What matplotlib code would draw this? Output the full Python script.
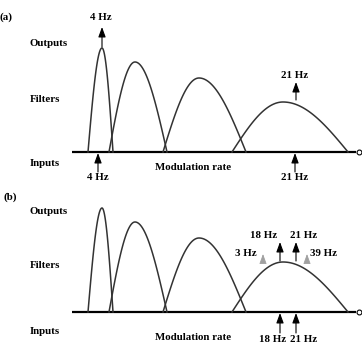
import numpy as np
import matplotlib
matplotlib.use('Agg')
import matplotlib.pyplot as plt

# schematic of modulation filterbank, drawn in pixel-like units
panel_labels = ['(a)', '(b)']
baselines = [152, 312]
row_names = ['Outputs', 'Filters', 'Inputs']
row_offsets_a = [-109, -53, 12]
row_offsets_b = [-101, -46, 20]

# filter shapes (left edge, peak, right edge, height)
filt_left = [88, 109, 163, 232]
filt_peak = [102, 135, 199, 283]
filt_right = [113, 167, 246, 348]
filt_height = [104, 90, 74, 50]

# panel (a): one 4 Hz and one 21 Hz input
a_in_labels = ['4 Hz', '21 Hz']
a_in_pos = [98, 295]
a_out_labels = ['4 Hz', '21 Hz']
a_out_pos = [102, 296]
a_out_tip = [27, 82]
a_out_tail = [47, 100]
a_out_text_y = [18, 76]

# panel (b): 18 Hz + 21 Hz inputs, outputs incl. distortion products
b_in_labels = ['18 Hz', '21 Hz']
b_in_pos = [280, 296]
b_in_text_x = [273, 304]
b_out_labels = ['18 Hz', '21 Hz']
b_out_pos = [280, 296]
b_out_text_x = [264, 304]
b_side_labels = ['3 Hz', '39 Hz']
b_side_pos = [263, 307]
b_side_text_x = [246, 323]

font = dict(family='Liberation Serif', weight='bold', size=7.8)

fig = plt.figure(figsize=(3.62, 3.44), dpi=100)
ax = fig.add_axes([0, 0, 1, 1])
ax.set_xlim(0, 362)
ax.set_ylim(344, 0)
ax.axis('off')


def arrow(x, tip, tail, color='black', lw=0.8):
    ax.annotate('', xy=(x, tip), xytext=(x, tail),
                arrowprops=dict(arrowstyle='-|>,head_length=0.6,head_width=0.22',
                                lw=lw, color=color, shrinkA=0, shrinkB=0))


for p, base in enumerate(baselines):
    # axis line with open circle at the end
    ax.plot([72, 356], [base, base], color='black', lw=1.6, solid_capstyle='butt')
    ax.plot([358.5], [base], marker='o', ms=3.5, mfc='white', mec='black', mew=0.8)
    # filters
    for l, pk, r, h in zip(filt_left, filt_peak, filt_right, filt_height):
        xl = np.linspace(l, pk, 60)
        xr = np.linspace(pk, r, 60)
        yl = base - h * np.sin(np.pi / 2 * (xl - l) / (pk - l))
        yr = base - h * np.sin(np.pi / 2 * (r - xr) / (r - pk))
        ax.plot(np.r_[xl, xr], np.r_[yl, yr], color='#333333', lw=1.1)
    offs = row_offsets_a if p == 0 else row_offsets_b
    for name, off in zip(row_names, offs):
        ax.text(30, base + off, name, va='center', ha='left', **font)
    ax.text(193, base + (16 if p == 0 else 25), 'Modulation rate',
            ha='center', va='center', **font)

ax.text(-1, 17, panel_labels[0], va='center', ha='left', **font)
ax.text(3, 197, panel_labels[1], va='center', ha='left', **font)

# panel (a) arrows
base = baselines[0]
for lab, x in zip(a_in_labels, a_in_pos):
    arrow(x, base + 1, base + 20)
    ax.text(x, base + 26, lab, ha='center', va='center', **font)
for lab, x, tip, tail, ty in zip(a_out_labels, a_out_pos, a_out_tip, a_out_tail, a_out_text_y):
    arrow(x, tip, tail)
    ax.text(x - 1, ty, lab, ha='center', va='center', **font)

# panel (b) arrows
base = baselines[1]
for lab, x, tx in zip(b_in_labels, b_in_pos, b_in_text_x):
    arrow(x, base + 1, base + 21)
    ax.text(tx, base + 27, lab, ha='center', va='center', **font)
for lab, x, tx in zip(b_out_labels, b_out_pos, b_out_text_x):
    arrow(x, base - 70, base - 51)
    ax.text(tx, base - 76, lab, ha='center', va='center', **font)
for lab, x, tx in zip(b_side_labels, b_side_pos, b_side_text_x):
    arrow(x, base - 58, base - 51, color='#a0a0a0', lw=0.6)
    ax.text(tx, base - 58, lab, ha='center', va='center', **font)

fig.savefig('out.png', dpi=100)
